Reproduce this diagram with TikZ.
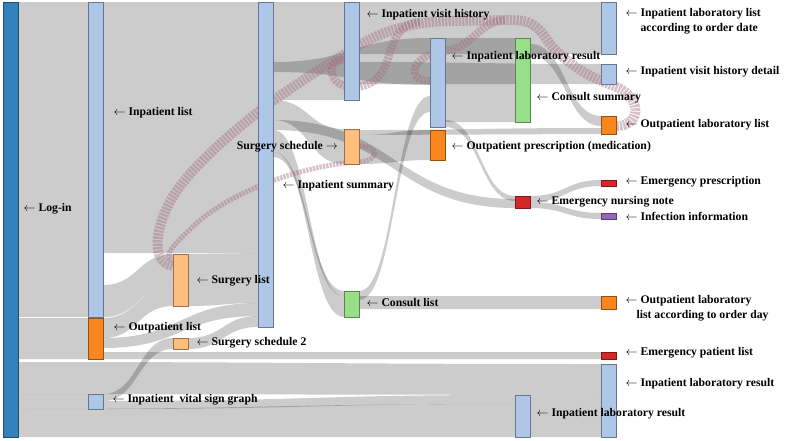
\documentclass[tikz,border=0pt]{standalone}
\usepackage{fontspec}
\setmainfont{Liberation Serif}
\usetikzlibrary{calc}

\definecolor{logblue}{RGB}{49,130,189}
\definecolor{lblue}{RGB}{174,199,232}
\definecolor{orng}{RGB}{250,135,30}
\definecolor{lorng}{RGB}{255,190,125}
\definecolor{lgreen}{RGB}{152,223,138}
\definecolor{ered}{RGB}{214,39,40}
\definecolor{purp}{RGB}{148,103,189}
\definecolor{loopcol}{RGB}{160,105,125}

\pgfdeclarelayer{flows}
\pgfdeclarelayer{loops}
\pgfsetlayers{flows,loops,main}

\newcommand\larr{$\leftarrow$\ }
\newcommand\rarr{\ $\rightarrow$}

% band from one bar to another: src, dst, src top/bottom, dst top/bottom
\newcommand\sflow[7][]{%
  \coordinate (fm) at ($(#2.east)!0.5!(#3.west)$);
  \fill[flowband,#1] (#2.east |- 0,#4) .. controls (fm |- 0,#4) and (fm |- 0,#6) .. (#3.west |- 0,#6)
    -- (#3.west |- 0,#7) .. controls (fm |- 0,#7) and (fm |- 0,#5) .. (#2.east |- 0,#5) -- cycle;}

\begin{document}
\begin{tikzpicture}[x=1pt, y=-1pt,
  bar/.style={draw=#1!60!black, fill=#1, line width=0.4pt, minimum width=15pt, inner sep=0pt, anchor=north west},
  lbl/.style={anchor=west, inner sep=0pt, font=\bfseries\fontsize{11.7}{15}\selectfont},
  flowband/.style={fill=black, fill opacity=0.2},
  loopline/.style={draw=loopcol, draw opacity=0.42, line width=#1, dash pattern=on 2.4pt off 1pt},
  loopline/.default=10pt]
\useasboundingbox (0,0) rectangle (785,440);

\node[bar=logblue, minimum height=435pt] (login) at (3,2) {};
\node[bar=lblue, minimum height=315pt] (inlist) at (88,2) {};
\node[bar=orng, minimum height=41pt] (outlist) at (88,318) {};
\node[bar=lblue, minimum height=15pt] (vital) at (88,394) {};
\node[bar=lorng, minimum height=52pt] (surglist) at (173,254) {};
\node[bar=lorng, minimum height=11pt] (surgsched2) at (173,338) {};
\node[bar=lblue, minimum height=325pt] (summary) at (258,2) {};
\node[bar=lblue, minimum height=98pt] (visithist) at (344,2) {};
\node[bar=lorng, minimum height=35pt] (surgsched) at (344,129) {};
\node[bar=lgreen, minimum height=26pt] (consultlist) at (344,291) {};
\node[bar=lblue, minimum height=89pt] (labres) at (430,38) {};
\node[bar=orng, minimum height=30pt] (outpres) at (430,130) {};
\node[bar=lgreen, minimum height=84pt] (consultsum) at (515,38) {};
\node[bar=ered, minimum height=12pt] (ernote) at (515,196) {};
\node[bar=lblue, minimum height=42pt] (labresb) at (515,395) {};
\node[bar=lblue, minimum height=52pt] (lablistdate) at (601,2) {};
\node[bar=lblue, minimum height=20pt] (visitdetail) at (601,64) {};
\node[bar=orng, minimum height=18pt] (outlablist) at (601,116) {};
\node[bar=ered, minimum height=6pt] (erpres) at (601,180) {};
\node[bar=purp, minimum height=6pt] (infection) at (601,213) {};
\node[bar=orng, minimum height=13pt] (outlabday) at (601,296) {};
\node[bar=ered, minimum height=7pt] (erlist) at (601,352) {};
\node[bar=lblue, minimum height=73pt] (labresc) at (601,364) {};

\begin{pgfonlayer}{flows}
\sflow{login}{inlist}{2}{317}{2}{317}
\sflow{login}{outlist}{318}{359}{318}{359}
\sflow{login}{labresc}{362}{394}{364}{395}
\sflow{login}{vital}{394}{409}{394}{409}
\sflow{login}{labresb}{409}{437}{404}{437}
\sflow{inlist}{summary}{2}{253}{2}{253}
\sflow{inlist}{surglist}{285}{317}{254}{286}
\sflow{outlist}{surglist}{318}{338}{286}{306}
\sflow{outlist}{summary}{338}{348}{303}{316}
\sflow{outlist}{erlist}{352}{359}{352}{359}
\sflow{vital}{surgsched2}{394}{401}{338}{349}
\sflow{vital}{labresb}{401}{409}{395}{404}
\sflow{surglist}{summary}{254}{306}{253}{303}
\sflow{surgsched2}{summary}{338}{349}{316}{327}
\sflow{summary}{visithist}{2}{100}{2}{100}
\sflow{summary}{labres}{62}{72}{38}{85}
\sflow{summary}{surgsched}{100}{120}{129}{164}
\sflow{summary}{ernote}{120}{130}{199}{208}
\sflow{summary}{consultlist}{130}{152}{296}{317}
\sflow{summary}{consultlist}{152}{157}{291}{296}
\sflow{visithist}{lablistdate}{2}{54}{2}{54}
\sflow{visithist}{visitdetail}{62}{84}{64}{84}
\sflow{surgsched}{outlablist}{130}{135}{128}{134}
\sflow{surgsched}{outpres}{135}{164}{130}{160}
\sflow{consultlist}{labres}{291}{300}{96}{112}
\sflow{consultlist}{outlabday}{296}{309}{296}{309}
\sflow{labres}{consultsum}{38}{122}{38}{122}
\sflow{labres}{ernote}{120}{127}{196}{201}
\sflow{consultsum}{outlablist}{44}{56}{116}{126}
\sflow{ernote}{erpres}{196}{202}{180}{186}
\sflow{ernote}{infection}{202}{208}{213}{219}
\sflow{labresb}{labresc}{395}{437}{395}{437}
\end{pgfonlayer}

\begin{pgfonlayer}{loops}
\coordinate (splitA) at (505,20);
\coordinate (splitB) at (420,22);
\draw[loopline=10pt] (outlablist.east |- 0,126) .. controls (642,126) and (642,96) .. (614,86)
  .. controls (588,77) and (565,62) .. (550,44) .. controls (540,30) and (535,20) .. (512,20) -- (450,21)
  .. controls (405,22) and (375,34) .. (345,54) .. controls (310,75) and (282,94) .. (263,108)
  .. controls (230,134) and (190,168) .. (172,198) .. controls (155,228) and (150,262) .. (surglist.west |- 0,266);
\draw[loopline=8pt] (splitA) .. controls (480,21) and (472,48) .. (445,51)
  .. controls (412,54) and (404,81) .. (labres.west |- 0,81);
\draw[loopline=8pt] (splitB) .. controls (390,24) and (392,58) .. (382,72)
  .. controls (372,90) and (342,92) .. (334,78) .. controls (328,68) and (333,60) .. (visithist.west |- 0,60);
\draw[loopline=5pt] (surgsched.east |- 0,146) .. controls (380,146) and (380,162) .. (356,162)
  .. controls (300,166) and (232,192) .. (198,222) .. controls (178,240) and (160,258) .. (surglist.west |- 0,258);
\end{pgfonlayer}

\node[lbl, xshift=5pt] (loginl) at (login.east |- 0,209) {\larr Log-in};
\node[lbl, xshift=10pt] (inlistl) at (inlist.east |- 0,113) {\larr Inpatient list};
\node[lbl, xshift=10pt] (outlistl) at (outlist.east |- 0,328) {\larr Outpatient list};
\node[lbl, xshift=9pt] (vitall) at (vital.east |- 0,400) {\larr Inpatient\ \ vital sign graph};
\node[lbl, xshift=8pt] (surglistl) at (surglist.east |- 0,281) {\larr Surgery list};
\node[lbl, xshift=8pt] (surgsched2l) at (surgsched2.east |- 0,343) {\larr Surgery schedule 2};
\node[lbl, anchor=east, xshift=-6pt] (surgschedl) at (surgsched.west |- 0,147) {Surgery schedule\rarr};
\node[lbl, xshift=9pt] (summaryl) at (summary.east |- 0,186) {\larr Inpatient summary};
\node[lbl, xshift=7pt] (visithistl) at (visithist.east |- 0,15) {\larr Inpatient visit history};
\node[lbl, xshift=7pt] (consultlistl) at (consultlist.east |- 0,303) {\larr Consult list};
\node[lbl, xshift=6pt] (labresl) at (labres.east |- 0,57) {\larr Inpatient laboratory result};
\node[lbl, xshift=6pt] (outpresl) at (outpres.east |- 0,147) {\larr Outpatient prescription (medication)};
\node[lbl, xshift=6pt] (consultsuml) at (consultsum.east |- 0,98) {\larr Consult summary};
\node[lbl, xshift=6pt] (ernotel) at (ernote.east |- 0,202) {\larr Emergency nursing note};
\node[lbl, xshift=6pt] (labresbl) at (labresb.east |- 0,414) {\larr Inpatient laboratory result};
\node[lbl, xshift=9pt, align=left] (lablistdatel) at (lablistdate.east |- 0,21) {\larr Inpatient laboratory list\\\hspace*{15pt}according to order date};
\node[lbl, xshift=9pt] (visitdetaill) at (visitdetail.east |- 0,72) {\larr Inpatient visit history detail};
\node[lbl, xshift=9pt] (outlablistl) at (outlablist.east |- 0,125) {\larr Outpatient laboratory list};
\node[lbl, xshift=9pt] (erpresl) at (erpres.east |- 0,182) {\larr Emergency prescription};
\node[lbl, xshift=9pt] (infectionl) at (infection.east |- 0,216) {\larr Infection information};
\node[lbl, xshift=9pt, align=left] (outlabdayl) at (outlabday.east |- 0,308) {\larr Outpatient laboratory\\\hspace*{11pt}list according to order day};
\node[lbl, xshift=9pt] (erlistl) at (erlist.east |- 0,353) {\larr Emergency patient list};
\node[lbl, xshift=9pt] (labrescl) at (labresc.east |- 0,384) {\larr Inpatient laboratory result};
\end{tikzpicture}
\end{document}
